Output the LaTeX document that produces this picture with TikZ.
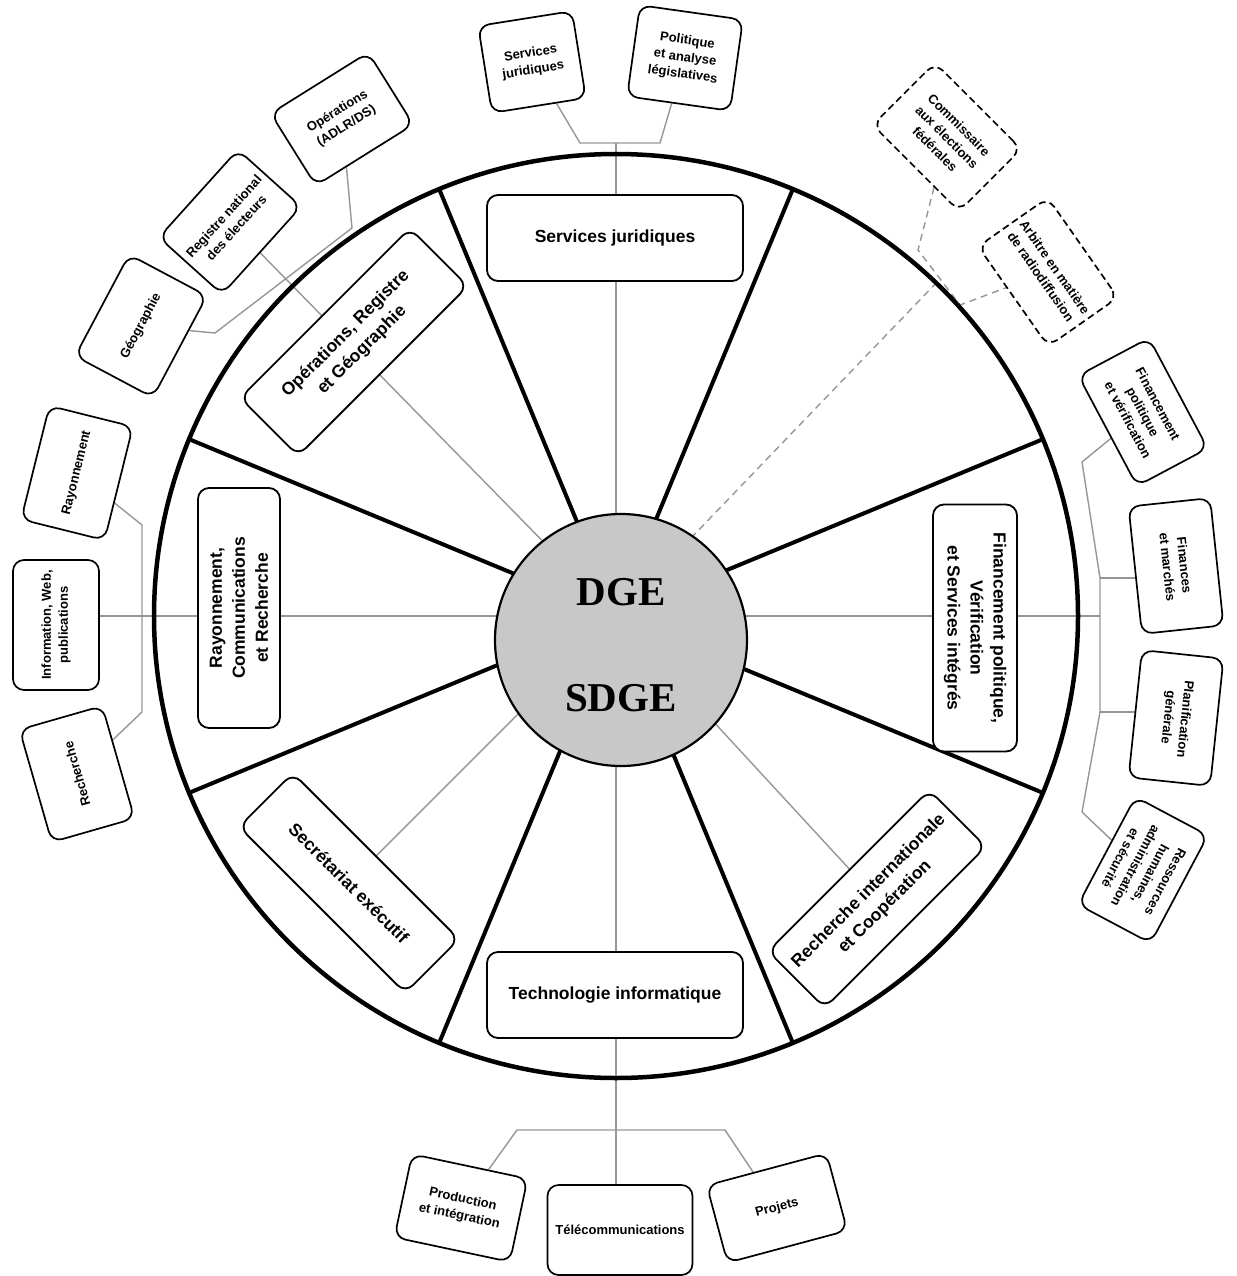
\documentclass[tikz,border=0pt]{standalone}
\usepackage{fontspec}
\setmainfont{Liberation Sans}
\newfontfamily\serifbf{Liberation Serif}
\usetikzlibrary{calc,backgrounds}
\definecolor{linkgray}{RGB}{150,150,150}
\definecolor{discgray}{RGB}{200,200,200}

\begin{document}
\begin{tikzpicture}[x=1pt,y=-1pt,
  unit/.style={draw, line width=1.8pt, rounded corners=11pt, fill=white, align=center, inner sep=2pt, font=\bfseries\fontsize{17.5}{23}\selectfont},
  sub/.style={unit, line width=1.7pt, font=\bfseries\fontsize{13}{17}\selectfont},
  dsub/.style={sub, dash pattern=on 7pt off 4pt},
  link/.style={draw=linkgray, line width=1.4pt},
  dlink/.style={link, dash pattern=on 7pt off 5pt}]
\useasboundingbox (0,0) rectangle (1236,1276);
\coordinate (C) at (616,616);

%sectors
\node[unit, minimum width=256pt, minimum height=86pt] (sj) at (615,238) {Services juridiques};
\node[unit, rotate=-90, minimum width=247pt, minimum height=84pt] (fin) at (975,628) {Financement politique,\\Vérification\\et Services intégrés};
\node[unit, minimum width=256pt, minimum height=86pt] (ti) at (615,995) {Technologie informatique};
\node[unit, rotate=90, minimum width=240pt, minimum height=82pt] (ray) at (239,608) {Rayonnement,\\Communications\\et Recherche};
\node[unit, rotate=45, minimum width=240pt, minimum height=82pt] (org) at (354,342) {Opérations, Registre\\et Géographie};
\node[unit, rotate=-45, minimum width=235pt, minimum height=76pt] (sec) at (349,883) {Secrétariat exécutif};
\node[unit, rotate=45, minimum width=228pt, minimum height=80pt] (ric) at (877,899) {Recherche internationale\\et Coopération};

%units, top
\node[sub, rotate=9, minimum width=95pt, minimum height=88pt] (sjs) at (532,62) {Services\\juridiques};
\node[sub, rotate=-8, minimum width=104pt, minimum height=92pt] (pal) at (685,58) {Politique\\et analyse\\législatives};
%units, top left
\node[sub, rotate=32, minimum width=115pt, minimum height=85pt] (ops) at (342,119) {Opérations\\(ADLR/DS)};
\node[sub, rotate=48, minimum width=118pt, minimum height=85pt] (reg) at (230,222) {Registre national\\des électeurs};
\node[sub, rotate=62, minimum width=115pt, minimum height=88pt] (geo) at (141,326) {Géographie};
%units, left
\node[sub, rotate=76, minimum width=117pt, minimum height=86pt] (rayb) at (77,473) {Rayonnement};
\node[sub, rotate=90, minimum width=130pt, minimum height=86pt] (info) at (56,625) {Information, Web,\\publications};
\node[sub, rotate=106, minimum width=117pt, minimum height=86pt] (rech) at (77,774) {Recherche};
%units, right
\node[sub, rotate=-62, minimum width=125pt, minimum height=80pt] (fpv) at (1143,412) {Financement\\politique\\et vérification};
\node[sub, rotate=-84, minimum width=128pt, minimum height=82pt] (fm) at (1176,566) {Finances\\et marchés};
\node[sub, rotate=-96, minimum width=128pt, minimum height=82pt] (pg) at (1176,718) {Planification\\générale};
\node[sub, rotate=-118, minimum width=122pt, minimum height=82pt] (rhs) at (1143,870) {Ressources\\humaines,\\administration\\et sécurité};
%units, dashed
\node[dsub, rotate=-45, minimum width=122pt, minimum height=88pt] (com) at (947,137) {Commissaire\\aux élections\\fédérales};
\node[dsub, rotate=-55, minimum width=122pt, minimum height=85pt] (arb) at (1048,272) {Arbitre en matière\\de radiodiffusion};
%units, bottom
\node[sub, rotate=-12, minimum width=118pt, minimum height=85pt] (pi) at (461,1208) {Production\\et intégration};
\node[sub, minimum width=145pt, minimum height=90pt] (tel) at (620,1230) {Télécommunications};
\node[sub, rotate=15, minimum width=124pt, minimum height=80pt] (proj) at (777,1208) {Projets};

%bends
\coordinate (tl) at (580,143); \coordinate (tr) at (660,143);
\coordinate (bl) at (517,1130); \coordinate (br) at (725,1130);
\coordinate (lt) at (142,525); \coordinate (lb) at (142,712);
\coordinate (rt) at (1082,462); \coordinate (r1) at (1100,578);
\coordinate (r2) at (1100,712); \coordinate (rb) at (1082,812);
\coordinate (g1) at (215,333); \coordinate (g2) at (352,228);
\coordinate (dj) at (940,279);
\coordinate (d1) at (918,250); \coordinate (d2) at (960,305);

\begin{scope}[on background layer]
%gray lines
\draw[link] (C) -- (C |- tl);                 %C--top
\draw[link] (sjs) -- (tl) -- (tr) -- (pal);
\draw[link] (C) -- (C |- tel);                %C--bottom
\draw[link] (pi) -- (bl) -- (br) -- (proj);
\draw[link] (C) -- (C -| info);               %C--left
\draw[link] (rayb) -- (lt) -- (lb) -- (rech);
\draw[link] (C) -- (C -| r1);                 %C--right
\draw[link] (fpv) -- (rt) -- (r1) -- (r2) -- (rb) -- (rhs);
\draw[link] (r1) -- (r1 -| fm);
\draw[link] (r2) -- (r2 -| pg);
\draw[link] (C) -- (reg);                     %C--top left
\draw[link] (geo) -- (g1) -- (g2) -- (ops);
\draw[link] (C) -- (sec);
\draw[link] (C) -- (ric);
\draw[dlink] (C) -- (dj);                     %C--top right
\draw[dlink] (com) -- (d1) -- (d2) -- (arb);

%ring and spokes
\draw[line width=4.5pt] (C) circle[radius=462];
\foreach \a in {22.5,67.5,...,337.5}
  \draw[line width=4pt] (C) -- ++(\a:462);
\end{scope}

%centre
\node[circle, draw, line width=2.2pt, fill=discgray, minimum size=252pt] (core) at (621,640) {};
\node[font=\serifbf\bfseries\fontsize{41}{41}\selectfont] (dge) at (621,592) {DGE};
\node[font=\serifbf\bfseries\fontsize{41}{41}\selectfont] (sdge) at (621,698) {SDGE};

\end{tikzpicture}
\end{document}
